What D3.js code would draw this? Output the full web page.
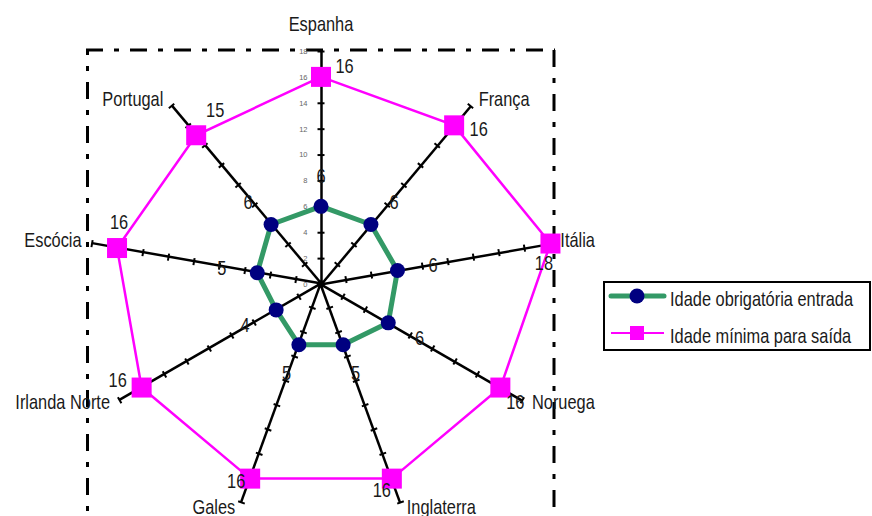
<!DOCTYPE html>
<html>
<head>
<meta charset="utf-8">
<script src="https://cdn.jsdelivr.net/npm/d3@7"></script>
<style>
  html, body { margin: 0; padding: 0; background: #fff; }
  svg { display: block; }
</style>
</head>
<body>
<svg id="chart" width="872" height="516"></svg>
<script>
// ---------------- DATA ----------------
const categories = ["Espanha", "França", "Itália", "Noruega", "Inglaterra", "Gales", "Irlanda Norte", "Escócia", "Portugal"];
const entryAge = [6, 6, 6, 6, 5, 5, 4, 5, 6];          // Idade obrigatória entrada
const exitAge  = [16, 16, 18, 16, 16, 16, 16, 16, 15]; // Idade mínima para saída
const radialTicks = [0, 2, 4, 6, 8, 10, 12, 14, 16, 18];
const seriesNames = ["Idade obrigatória entrada", "Idade mínima para saída"];

// ---------------- LAYOUT ----------------
const W = 872, H = 516;
const cx = 321, cy = 284, R = 233;
// label nudges (layout, px) for the exit-age data labels, in category order
const exitLabelNudge = [[23.5,-11],[24.5,4],[-6.5,19],[15,14.5],[-10,11.5],[-14,2],[-24,-8],[2,-26],[19,-25]];

function hasFont(name) {
  const c = document.createElement('canvas').getContext('2d');
  const s = 'Portugal Idade obrigatória';
  c.font = '40px monospace';
  const w1 = c.measureText(s).width;
  c.font = '40px "' + name + '", monospace';
  return Math.abs(c.measureText(s).width - w1) > 0.5;
}
const useNarrow = hasFont('Liberation Sans Narrow');
const family = useNarrow ? '"Liberation Sans Narrow", "Liberation Sans", Arial, sans-serif' : '"Liberation Sans", Arial, sans-serif';
const sx = useNarrow ? 1 : 0.82;

const svg = d3.select('#chart');
svg.append('rect').attr('width', W).attr('height', H).attr('fill', '#fff');

function label(g, x, y, txt, anchor, size, fill) {
  return g.append('text')
    .attr('transform', `translate(${x},${y}) scale(${sx},1)`)
    .attr('text-anchor', anchor)
    .style('font-family', family)
    .style('font-size', size + 'px')
    .attr('fill', fill || '#1a1a1a')
    .text(txt);
}

const n = categories.length;
const r = d3.scaleLinear().domain([0, 18]).range([0, R]);
const angle = d3.scaleLinear().domain([0, n]).range([0, 2 * Math.PI]);
const pt = (i, v) => [cx + r(v) * Math.sin(angle(i)), cy - r(v) * Math.cos(angle(i))];

// ---------------- FRAME (dash-dot plot area) ----------------
const frame = svg.append('g').attr('stroke', '#000').attr('stroke-width', 3).attr('fill', 'none')
  .attr('stroke-dasharray', '17,11,5,11');
frame.append('line').attr('x1', 86).attr('y1', 50).attr('x2', 555).attr('y2', 50);
frame.append('line').attr('x1', 87.5).attr('y1', 50).attr('x2', 87.5).attr('y2', 530).attr('stroke-dashoffset', 12);
frame.append('line').attr('x1', 554).attr('y1', 50).attr('x2', 554).attr('y2', 530);

// ---------------- AXES ----------------
const axisScale = d3.scaleLinear().domain([0, 18]).range([0, -R]);
categories.forEach((c, i) => {
  const g = svg.append('g')
    .attr('transform', `translate(${cx},${cy}) rotate(${angle(i) * 180 / Math.PI})`);
  const ax = d3.axisLeft(axisScale)
    .tickValues(radialTicks)
    .tickSizeInner(3.5)
    .tickSizeOuter(0)
    .tickPadding(10)
    .tickFormat(i === 0 ? d3.format('d') : () => '');
  g.call(ax);
  g.select('.domain').attr('stroke', '#000').attr('stroke-width', 2.5);
  g.selectAll('.tick line').attr('x1', -3.5).attr('x2', 3.5).attr('stroke', '#000').attr('stroke-width', 2);
  g.selectAll('.tick text').attr('fill', '#666').style('font-size', '7.5px')
    .style('font-family', '"Liberation Sans", Arial, sans-serif');
});

// ---------------- SERIES: entry age ----------------
const line = d3.line().curve(d3.curveLinearClosed);
svg.append('path')
  .attr('d', line(entryAge.map((v, i) => pt(i, v))))
  .attr('fill', 'none').attr('stroke', '#339966').attr('stroke-width', 5).attr('stroke-linejoin', 'round');
svg.append('g').selectAll('circle').data(entryAge).join('circle')
  .attr('cx', (v, i) => pt(i, v)[0]).attr('cy', (v, i) => pt(i, v)[1])
  .attr('r', 7.5).attr('fill', '#000080');

// ---------------- SERIES: exit age ----------------
svg.append('path')
  .attr('d', line(exitAge.map((v, i) => pt(i, v))))
  .attr('fill', 'none').attr('stroke', '#ff00ff').attr('stroke-width', 2.5);
svg.append('g').selectAll('rect').data(exitAge).join('rect')
  .attr('x', (v, i) => pt(i, v)[0] - 10).attr('y', (v, i) => pt(i, v)[1] - 10)
  .attr('width', 20).attr('height', 20).attr('fill', '#ff00ff');

// ---------------- DATA LABELS ----------------
const labels = svg.append('g');
entryAge.forEach((v, i) => {
  const [x, y] = pt(i, v);
  const a = angle(i);
  const lx = x + 30 * Math.sin(a) + 6 * Math.sin(a);
  const ly = y - 30 * Math.cos(a);
  label(labels, lx, ly + 7, v, 'middle', 20);
});
exitAge.forEach((v, i) => {
  const [x, y] = pt(i, v);
  label(labels, x + exitLabelNudge[i][0], y + exitLabelNudge[i][1] + 7, v, 'middle', 20);
});

// ---------------- CATEGORY LABELS ----------------
categories.forEach((c, i) => {
  const [ex, ey] = pt(i, 18);
  const a = angle(i);
  const s = Math.sin(a), co = Math.cos(a);
  if (i === 0) {
    label(labels, ex, ey - 20, c, 'middle', 20);
  } else {
    const anchor = s > 0 ? 'start' : 'end';
    const dx = (4 + 6 * Math.abs(s)) * (s > 0 ? 1 : -1);
    label(labels, ex + dx, ey + 5 - 6 * co, c, anchor, 20);
  }
});

// ---------------- LEGEND ----------------
const lg = svg.append('g');
lg.append('rect').attr('x', 604).attr('y', 282).attr('width', 266).attr('height', 68)
  .attr('fill', '#fff').attr('stroke', '#000').attr('stroke-width', 2);
lg.append('line').attr('x1', 611).attr('x2', 664).attr('y1', 296).attr('y2', 296)
  .attr('stroke', '#339966').attr('stroke-width', 5).attr('stroke-linecap', 'round');
lg.append('circle').attr('cx', 637).attr('cy', 296).attr('r', 7.5).attr('fill', '#000080');
lg.append('line').attr('x1', 611).attr('x2', 664).attr('y1', 333).attr('y2', 333)
  .attr('stroke', '#ff00ff').attr('stroke-width', 2);
lg.append('rect').attr('x', 630).attr('y', 326).attr('width', 14).attr('height', 14).attr('fill', '#ff00ff');
label(lg, 670, 306, seriesNames[0], 'start', 20);
label(lg, 670, 343, seriesNames[1], 'start', 20);
</script>
</body>
</html>
